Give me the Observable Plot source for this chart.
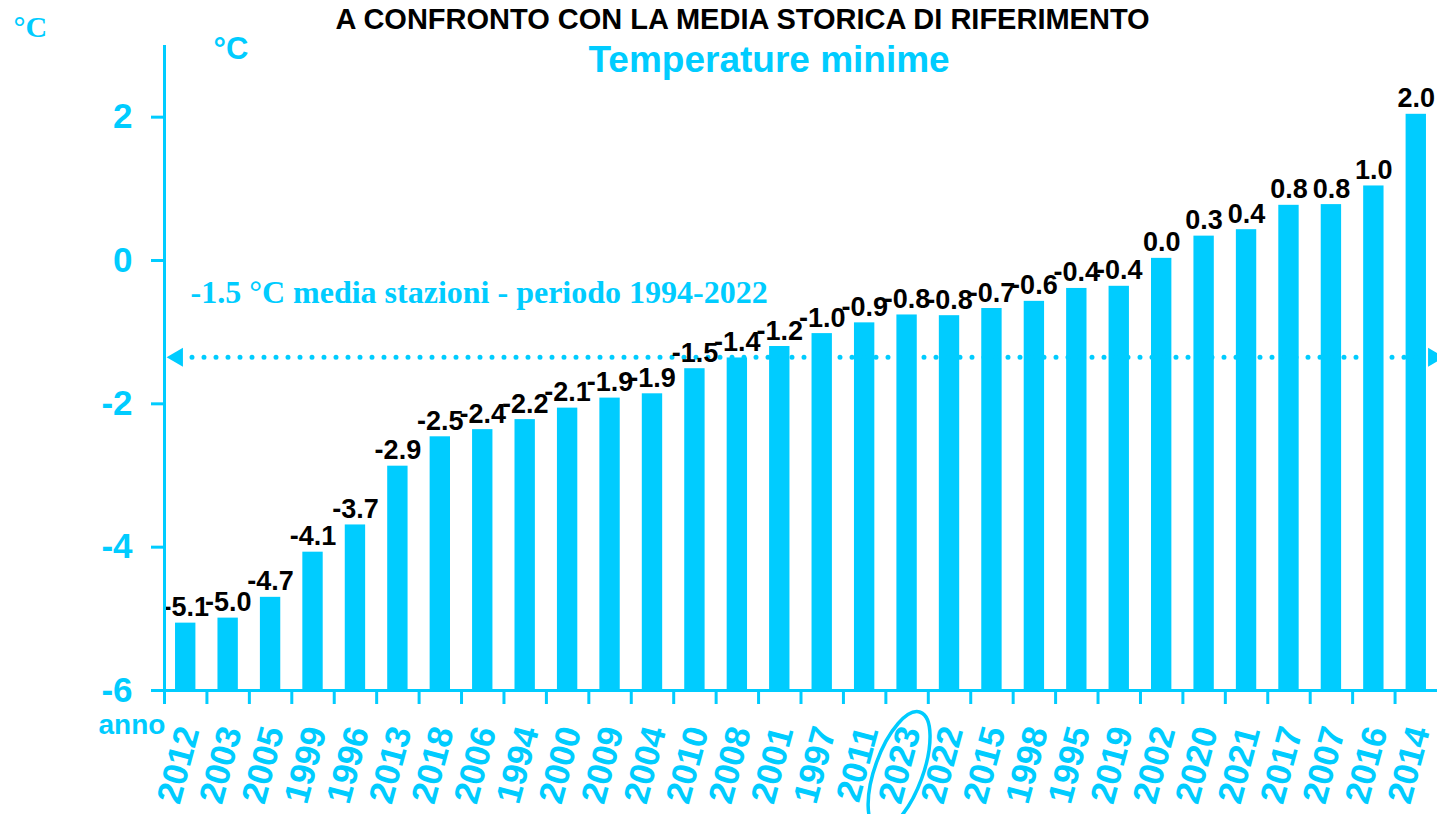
<!DOCTYPE html>
<html>
<head>
<meta charset="utf-8">
<script src="https://cdn.jsdelivr.net/npm/d3@7"></script>
<script src="https://cdn.jsdelivr.net/npm/@observablehq/plot@0.6"></script>
<style>
html,body{margin:0;padding:0;background:#fff;overflow:hidden}
#wrap{position:relative;width:1437px;height:814px}
</style>
</head>
<body>
<div id="wrap"></div>
<script>
// ---- data ----
const years = ["2012","2003","2005","1999","1996","2013","2018","2006","1994","2000","2009","2004","2010","2008","2001","1997","2011","2023","2022","2015","1998","1995","2019","2002","2020","2021","2017","2007","2016","2014"];
const values = [-5.06,-4.99,-4.70,-4.07,-3.69,-2.87,-2.46,-2.36,-2.22,-2.06,-1.92,-1.86,-1.51,-1.36,-1.20,-1.02,-0.87,-0.76,-0.77,-0.67,-0.57,-0.39,-0.36,0.03,0.34,0.43,0.77,0.78,1.04,2.04];
const yTicks = [-6,-4,-2,0,2];
const refValue = -1.35;
const refText = "-1.5 °C media stazioni - periodo 1994-2022";
const titleText = "A CONFRONTO CON LA MEDIA STORICA DI RIFERIMENTO";
const subtitleText = "Temperature minime";
const unitText = "°C";
const xLabelText = "anno";
const highlightYear = "2023";

// ---- layout / style ----
const CYAN = "#00CCFF";
const W = 1437, H = 814, ML = 164, MR = 0, MT = 45, MB = 124;
const step = (W - ML - MR) / years.length;
const data = years.map((y, i) => ({year: y, value: values[i]}));

const ellipseSymbol = {
  draw(ctx) {
    const rx = 24, ry = 62, k = 0.5523;
    ctx.moveTo(0, -ry);
    ctx.bezierCurveTo(k * rx, -ry, rx, -k * ry, rx, 0);
    ctx.bezierCurveTo(rx, k * ry, k * rx, ry, 0, ry);
    ctx.bezierCurveTo(-k * rx, ry, -rx, k * ry, -rx, 0);
    ctx.bezierCurveTo(-rx, -k * ry, -k * rx, -ry, 0, -ry);
    ctx.closePath();
  }
};

const sans = "Liberation Sans, Arial, Helvetica, sans-serif";
const serif = "Liberation Serif, Times New Roman, serif";

const plot = Plot.plot({
  width: W, height: H,
  marginLeft: ML, marginRight: MR, marginTop: MT, marginBottom: MB,
  style: {background: "transparent", fontFamily: sans, overflow: "hidden"},
  x: {domain: years, paddingInner: 0.52, paddingOuter: 0.26, round: false, label: null},
  y: {domain: [-6, 3], label: null},
  marks: [
    Plot.barY(data, {x: "year", y1: -6, y2: "value", fill: CYAN}),
    Plot.ruleY([refValue], {stroke: CYAN, strokeWidth: 5, strokeDasharray: "0,12", strokeLinecap: "round", insetLeft: 28, insetRight: 10}),
    Plot.dot([refValue], {y: d => d, frameAnchor: "left", dx: 13, symbol: "triangle", rotate: -90, r: 7, fill: CYAN, stroke: "none"}),
    Plot.dot([refValue], {y: d => d, frameAnchor: "right", dx: -4, symbol: "triangle", rotate: 90, r: 7, fill: CYAN, stroke: "none"}),
    Plot.text([refText], {frameAnchor: "left", y: () => refValue, dx: 26, dy: -54, textAnchor: "start", lineAnchor: "bottom", fill: CYAN, fontFamily: serif, fontWeight: "bold", fontSize: 32}),
    Plot.text(data, {x: "year", y: "value", text: d => d.value.toFixed(1), dy: -7, lineAnchor: "bottom", fontSize: 27, fontWeight: "bold", fill: "black"}),
    Plot.ruleX([years[0]], {dx: -step / 2, y1: -6, y2: 3, stroke: CYAN, strokeWidth: 3}),
    Plot.ruleY([-6], {stroke: CYAN, strokeWidth: 3}),
    Plot.axisY({ticks: yTicks, tickSize: 13, tickPadding: 19, tickFormat: d => String(d), stroke: CYAN, strokeWidth: 3, fill: CYAN, fontSize: 35, fontWeight: "bold", label: null}),
    Plot.axisX({tickSize: 14, tickFormat: () => "", dx: -step / 2, stroke: CYAN, strokeWidth: 3, label: null}),
    Plot.axisX({tickSize: 0, tickPadding: 37, tickRotate: -75, dx: 3, fill: CYAN, fontSize: 35, fontWeight: "bold", label: null}),
    Plot.dot([highlightYear], {x: d => d, frameAnchor: "bottom", dx: -8, dy: 80, symbol: ellipseSymbol, rotate: 20, fill: "none", stroke: CYAN, strokeWidth: 3.5}),
    // titles and unit labels
    Plot.text([titleText], {frameAnchor: "top-left", dx: 171, dy: -17, textAnchor: "start", lineAnchor: "bottom", fontSize: 29, fontWeight: "bold", fill: "black"}),
    Plot.text([subtitleText], {frameAnchor: "top-left", dx: 424, dy: 26, textAnchor: "start", lineAnchor: "bottom", fontSize: 37, fontWeight: "bold", fill: CYAN}),
    Plot.text([unitText], {frameAnchor: "top-left", dx: -151, dy: -9, textAnchor: "start", lineAnchor: "bottom", fontFamily: serif, fontSize: 30, fontWeight: "bold", fill: CYAN}),
    Plot.text([unitText], {frameAnchor: "top-left", dx: 49, dy: 13, textAnchor: "start", lineAnchor: "bottom", fontSize: 31, fontWeight: "bold", fill: CYAN}),
    Plot.text([xLabelText], {frameAnchor: "top-left", dx: -66, dy: 688, textAnchor: "start", lineAnchor: "bottom", fontSize: 28, fontWeight: "bold", fill: CYAN})
  ]
});
document.getElementById("wrap").appendChild(plot);
</script>
</body>
</html>
